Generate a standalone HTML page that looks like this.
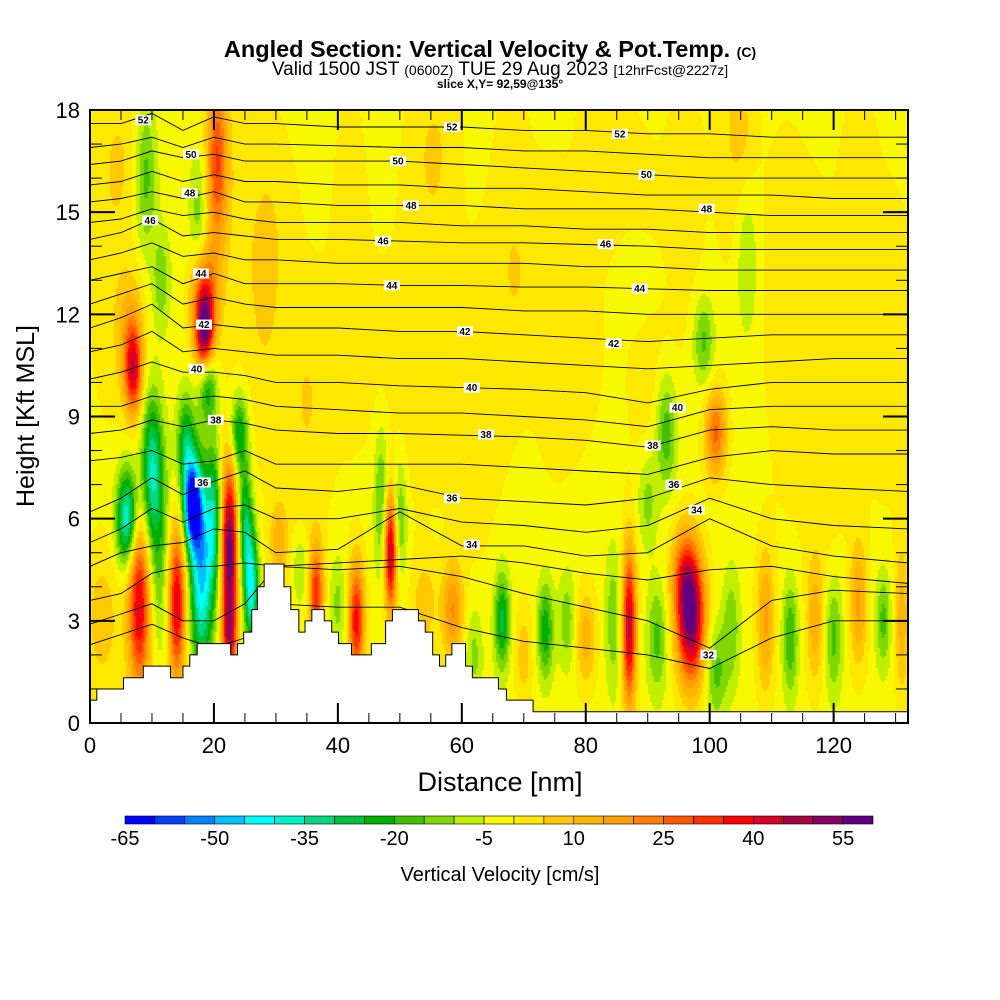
<!DOCTYPE html>
<html><head><meta charset="utf-8">
<style>
body{margin:0;background:#fff;}
#wrap{position:relative;width:1000px;height:1000px;font-family:"Liberation Sans",sans-serif;}
canvas{position:absolute;left:90px;top:110px;}
svg{position:absolute;left:0;top:0;}
</style></head>
<body>
<div id="wrap">
<canvas id="field" width="818" height="613"></canvas>
<svg id="svg" width="1000" height="1000">
<text x="490" y="57" text-anchor="middle" font-size="23.5" font-weight="bold">Angled Section: Vertical Velocity &amp; Pot.Temp. <tspan font-size="14">(C)</tspan></text>
<text x="500" y="75" text-anchor="middle" font-size="19">Valid 1500 JST <tspan font-size="14">(0600Z)</tspan> TUE 29 Aug 2023 <tspan font-size="14">[12hrFcst@2227z]</tspan></text>
<text x="500" y="88" text-anchor="middle" font-size="12" font-weight="bold">slice X,Y= 92,59@135°</text>
<text x="500" y="791" text-anchor="middle" font-size="27">Distance [nm]</text>
<text transform="translate(34,416) rotate(-90)" text-anchor="middle" font-size="25">Height [Kft MSL]</text>
<text x="500" y="881" text-anchor="middle" font-size="20">Vertical Velocity [cm/s]</text>
<g id="gContours"></g>
<g id="gTerrain"></g>
<g id="gLabels"></g>
<g id="gAxes"></g>
<g id="gBar"></g>
</svg>
</div>
<script>
// ---- data ----
const colorBins = ["#0000ff","#0040ff","#0080ff","#00c0ff","#00ffff","#00f0c8","#00d880","#00c040","#00b000","#40c000","#80d800","#c0f000","#f8f800","#ffe800","#ffc800","#ffb400","#ffa000","#ff8000","#ff5800","#ff3000","#ff0000","#d80028","#a80040","#880060","#600080"];
const binMin = -65, binStep = 5;
const barLabels = [-65,-50,-35,-20,-5,10,25,40,55];
const xTicks = [0,20,40,60,80,100,120];
const yTicks = [0,3,6,9,12,15,18];
const baseW = -2;
const blobX = [8,7,6.5,10,6,11,14,16.5,18,15.5,22.5,22.5,20,18.5,18.5,20.5,19,17.5,9,11.5,24,26,25,30.5,36.5,34,43,40,48.5,47,50,58.5,54,66.5,62,73.5,77,70,80,87,84.5,91.5,97,96,101,103.5,101,99,93,90,106,109,113,117,120,124,128,131,30,45,55,70,85,105,115,125,60,35,78,5,28,118,88,2,
 3,22,28,35,42,52,56,62,68,75,82,90,96,104,112,118,124,130];
const blobZ = [3.5,10.3,11.5,7.5,6.0,5,3.5,6.4,4.5,8.2,5,2.5,6,11.4,12.5,16.5,10,15,16,13,8.5,4,6,5.3,3.8,4.5,3,3.5,5,6.5,6,3.3,3.5,3,2,2.7,3,2,2.5,2.8,3,2.5,3,4.3,1.5,2.8,8.5,11.2,8.5,6.5,13.5,3,2.5,3,2.5,3.5,3,3,15,11,17,13,16,17.5,14,10,7.5,10,9.5,16.5,13,7,13,3,
 14,15,12,8,14,11,16,9,14,12,16,11,15,17,12,9,14,11];
const blobA = [45,38,15,-30,-40,-15,45,-60,-45,-25,60,30,-25,50,30,30,-25,-12,-15,-12,-25,-40,-25,15,35,-10,40,-10,50,-15,-15,22,10,-25,-10,-22,-12,10,15,48,-12,-15,55,25,-15,-12,28,-15,-18,-12,-10,18,-18,15,-15,18,-15,15,3,3,3,3,3,5,3,3,3,3,3,5,3,3,-6,10,
 4.5,4,4.5,4.5,4,4.5,4.5,4,4.5,4,4.5,4.5,4,5,4.5,4,4.5,4.5];
const blobSX = [1.3,1.0,1.5,1.2,1.2,1.5,1.0,1.0,1.3,1,0.9,0.8,0.8,1.0,1.5,1.2,1,1,1.2,1,1.0,0.8,0.8,1,0.8,1,0.9,1,0.7,0.8,0.8,1.2,1.5,0.9,1,0.9,1,1,1.2,0.8,1,1.2,1.6,1.5,1.2,1,1.2,1.2,1.2,1.2,1.2,1,0.9,1,1,1,0.9,0.8,3,4,3,4,3,1.5,3,3,4,3,3,2,2,3,3,2,
 2.6,2.4,2.6,2.6,2.4,2.6,2.6,2.4,2.6,2.4,2.6,2.6,2.4,2.4,2.6,2.4,2.6,2.6];
const blobSZ = [1.8,0.9,1.2,1.5,1.0,2,1.6,0.9,2.0,1.0,1.8,0.8,1.5,0.8,1.0,1.8,0.8,1.2,1.5,1,0.8,1.2,1.2,0.8,1.0,0.8,1.2,1,1.2,1.5,1.2,1.0,1,1.0,1,1.0,1,1,1,1.6,1.5,1.2,1.3,1,1,1.2,0.9,0.9,1.2,1,1.5,1.5,1.2,1.3,1.2,1.3,1,1.5,2,2,1.5,2,2,1,2,2,1.2,2,1.5,1.5,2,1.2,1,1.5,
 4,3.5,4,3.5,4,3.5,3.5,3.5,4,3.5,3.5,4,3.5,3,4,3.5,4,3.5];
const terrainX = [0,1.1,5.4,8.6,13.0,15.0,16.1,17.3,22.7,23.8,24.8,26.1,27.0,28.1,31.3,32.4,33.7,34.7,35.8,37.8,39.0,40.1,42.2,45.4,47.7,48.8,53.0,54.1,55.3,56.4,57.4,58.4,60.6,61.7,65.9,67.2,71.5];
const terrainH = [0.67,1.0,1.33,1.67,1.33,1.67,2.0,2.33,2.0,2.33,2.67,3.33,4.0,4.67,4.0,3.33,2.67,3.0,3.33,3.0,2.67,2.33,2.0,2.33,3.0,3.33,3.0,2.67,2.0,1.67,2.0,2.33,1.67,1.33,1.0,0.67,0.33];
const thetaNodesX = [0,5,10,15,20,25,30,40,50,60,70,80,90,100,110,120,132];
const thetaLevels = [31,32,33,34,35,36,37,38,39,40,41,42,43,44,45,46,47,48,49,50,51,52];
const thetaHeights = [
[2.3,2.6,2.9,2.5,2.2,2.5,3.5,3.4,3.4,2.8,2.4,2.2,2.0,1.6,2.5,3.0,3.0],
[2.9,3.2,3.5,3.0,3.0,3.5,4.6,4.5,4.6,4.3,3.8,3.4,3.0,2.2,3.6,3.9,3.8],
[3.6,3.8,4.4,4.6,4.6,4.7,4.6,4.7,4.8,4.9,4.7,4.4,4.2,4.5,4.6,4.3,4.1],
[4.6,5.0,5.2,5.3,5.7,5.6,5.0,5.1,6.2,5.2,5.2,4.9,5.0,6.0,5.2,4.9,4.7],
[5.3,5.7,6.3,5.9,6.3,6.4,6.0,6.0,6.3,5.9,5.8,5.6,5.8,6.6,6.0,5.8,5.7],
[6.2,6.6,7.2,6.7,7.1,7.4,6.9,6.8,7.0,6.6,6.5,6.4,6.6,7.2,7.0,6.9,6.8],
[7.7,7.8,8.0,7.6,7.7,8.0,7.6,7.6,7.6,7.6,7.5,7.4,7.3,7.8,8.0,7.9,7.9],
[8.5,8.6,8.9,8.7,8.9,8.8,8.6,8.5,8.5,8.45,8.4,8.3,8.1,8.6,8.7,8.6,8.6],
[9.3,9.3,9.6,9.5,9.6,9.5,9.3,9.2,9.1,9.1,9.0,8.9,8.7,9.2,9.3,9.3,9.3],
[10.1,10.3,10.6,10.3,10.3,10.2,10.0,10.0,9.9,9.85,9.8,9.7,9.4,9.8,10.0,10.0,10.0],
[10.9,11.1,11.5,10.9,11.0,10.9,10.8,10.8,10.7,10.7,10.6,10.5,10.4,10.5,10.6,10.7,10.7],
[11.6,11.9,12.3,11.6,11.7,11.6,11.6,11.6,11.5,11.5,11.4,11.3,11.2,11.3,11.4,11.4,11.4],
[12.3,12.6,12.9,12.3,12.5,12.3,12.2,12.2,12.2,12.2,12.1,12.1,12.0,12.0,12.0,12.0,12.0],
[13.0,13.2,13.4,12.9,13.2,12.9,12.9,12.9,12.85,12.85,12.8,12.8,12.75,12.7,12.7,12.7,12.7],
[13.6,13.8,14.1,13.7,13.8,13.6,13.6,13.5,13.5,13.5,13.5,13.4,13.4,13.3,13.3,13.3,13.3],
[14.2,14.4,14.8,14.3,14.4,14.3,14.2,14.2,14.15,14.1,14.1,14.05,14.0,13.9,13.9,13.9,13.9],
[14.7,14.8,15.1,14.9,15.0,14.8,14.7,14.7,14.7,14.6,14.6,14.5,14.5,14.4,14.4,14.4,14.4],
[15.3,15.4,15.6,15.4,15.6,15.3,15.3,15.2,15.2,15.2,15.1,15.1,15.1,15.0,14.9,14.9,14.9],
[15.8,15.9,16.2,15.9,16.1,15.9,15.9,15.8,15.8,15.7,15.7,15.6,15.5,15.5,15.5,15.4,15.4],
[16.4,16.5,16.8,16.6,16.7,16.5,16.5,16.5,16.5,16.4,16.3,16.2,16.1,16.0,16.0,16.0,16.0],
[16.9,17.0,17.2,16.9,17.2,17.0,17.0,16.95,16.9,16.9,16.8,16.8,16.7,16.6,16.6,16.6,16.6],
[17.6,17.6,17.9,17.4,17.8,17.6,17.6,17.5,17.5,17.5,17.4,17.4,17.3,17.3,17.2,17.2,17.2]];
const labelText = ["52","52","52","50","50","50","48","48","48","46","46","46","44","44","44","42","42","42","40","40","40","38","38","38","36","36","36","34","34","32"];
const labelX = [8.6,58.4,85.5,16.3,49.7,89.8,16.1,51.8,99.5,9.7,47.3,83.2,17.9,48.7,88.7,18.4,60.5,84.5,17.2,61.6,94.8,20.3,63.9,90.8,18.2,58.4,94.2,61.6,97.9,99.8];
const labelZ = [17.7,17.5,17.3,16.7,16.5,16.1,15.56,15.2,15.1,14.76,14.15,14.06,13.2,12.85,12.76,11.7,11.5,11.15,10.4,9.85,9.26,8.9,8.47,8.15,7.06,6.6,7.0,5.24,6.26,2.0];

// ---- scales ----
const L=90,T=110,W=818,H=613,XMAX=132,ZMAX=18;
const sx=v=>L+v/XMAX*W, sz=v=>T+H-v/ZMAX*H;
const NS="http://www.w3.org/2000/svg";
function mk(tag,attrs,parent){const e=document.createElementNS(NS,tag);for(const k in attrs)e.setAttribute(k,attrs[k]);parent.appendChild(e);return e;}

// ---- field ----
const ctx=document.getElementById('field').getContext('2d');
const cell=2;
for(let py=0;py<H;py+=cell){
  const z=ZMAX*(1-(py+1)/H);
  for(let px=0;px<W;px+=cell){
    const x=(px+1)/W*XMAX;
    let w=baseW;
    for(let i=0;i<blobX.length;i++){
      const dx=(x-blobX[i])/blobSX[i], dz=(z-blobZ[i])/blobSZ[i];
      const d=dx*dx+dz*dz; if(d<12) w+=blobA[i]*Math.exp(-0.5*d);
    }
    let b=Math.floor((w-binMin)/binStep); b=Math.max(0,Math.min(colorBins.length-1,b));
    ctx.fillStyle=colorBins[b]; ctx.fillRect(px,py,cell,cell);
  }
}

// ---- contours ----
const gC=document.getElementById('gContours');
thetaLevels.forEach((lv,i)=>{
  const pts=thetaNodesX.map((x,j)=>sx(x).toFixed(1)+","+Math.max(T,sz(thetaHeights[i][j])).toFixed(1)).join(" ");
  const p=mk('polyline',{points:pts,fill:"none",stroke:"#000","stroke-width":"0.9"},gC);
  
  
});

// ---- terrain ----
const gT=document.getElementById('gTerrain');
let d="M"+sx(0)+","+sz(0);
terrainX.forEach((x,i)=>{const x2=i+1<terrainX.length?terrainX[i+1]:XMAX;d+=" L"+sx(x)+","+sz(terrainH[i])+" L"+sx(x2)+","+sz(terrainH[i]);});
d+=" L"+sx(XMAX)+","+sz(0)+" Z";
const tp=mk('path',{d:d,fill:"#fff",stroke:"#000","stroke-width":"1"},gT);



// ---- labels ----
const gL=document.getElementById('gLabels');
labelText.forEach((t,i)=>{
  const g=mk('g',{},gL);
  
  
  mk('rect',{x:sx(labelX[i])-8,y:sz(labelZ[i])-5,width:16,height:10,fill:"#fff"},g);
  const tx=mk('text',{x:sx(labelX[i]),y:sz(labelZ[i])+3.5,"text-anchor":"middle","font-size":"10","font-weight":"bold"},g);
  tx.textContent=t;
});

// ---- axes ----
const gA=document.getElementById('gAxes');
mk('rect',{x:L,y:T,width:W,height:H,fill:"none",stroke:"#000","stroke-width":"2"},gA);
for(let v=0;v<=XMAX;v+=5){
  const maj=v%20===0, len=maj?20:10;
  mk('line',{x1:sx(v),x2:sx(v),y1:T+H,y2:T+H-len,stroke:"#000","stroke-width":maj?2:1},gA);
  mk('line',{x1:sx(v),x2:sx(v),y1:T,y2:T+len,stroke:"#000","stroke-width":maj?2:1},gA);
}
for(let v=0;v<=ZMAX;v+=1){
  const maj=v%3===0, len=maj?25:12;
  mk('line',{x1:L,x2:L+len,y1:sz(v),y2:sz(v),stroke:"#000","stroke-width":maj?2:1},gA);
  mk('line',{x1:L+W,x2:L+W-len,y1:sz(v),y2:sz(v),stroke:"#000","stroke-width":maj?2:1},gA);
}
xTicks.forEach(v=>{const t=mk('text',{x:sx(v),y:753,"text-anchor":"middle","font-size":"22"},gA);t.textContent=v;
  
  });
yTicks.forEach(v=>{const t=mk('text',{x:80,y:sz(v)+8,"text-anchor":"end","font-size":"22"},gA);t.textContent=v;
  
  });

// ---- colorbar ----
const gB=document.getElementById('gBar');
const bx=125,bw=29.92;
colorBins.forEach((c,i)=>{const r=mk('rect',{x:bx+i*bw,y:816,width:bw,height:8,fill:c,stroke:"#000","stroke-width":"0.6"},gB);
  
  });
barLabels.forEach(v=>{const t=mk('text',{x:bx+(v-binMin)/binStep*bw,y:845,"text-anchor":"middle","font-size":"20"},gB);t.textContent=v;
  
  });
</script>
</body></html>
